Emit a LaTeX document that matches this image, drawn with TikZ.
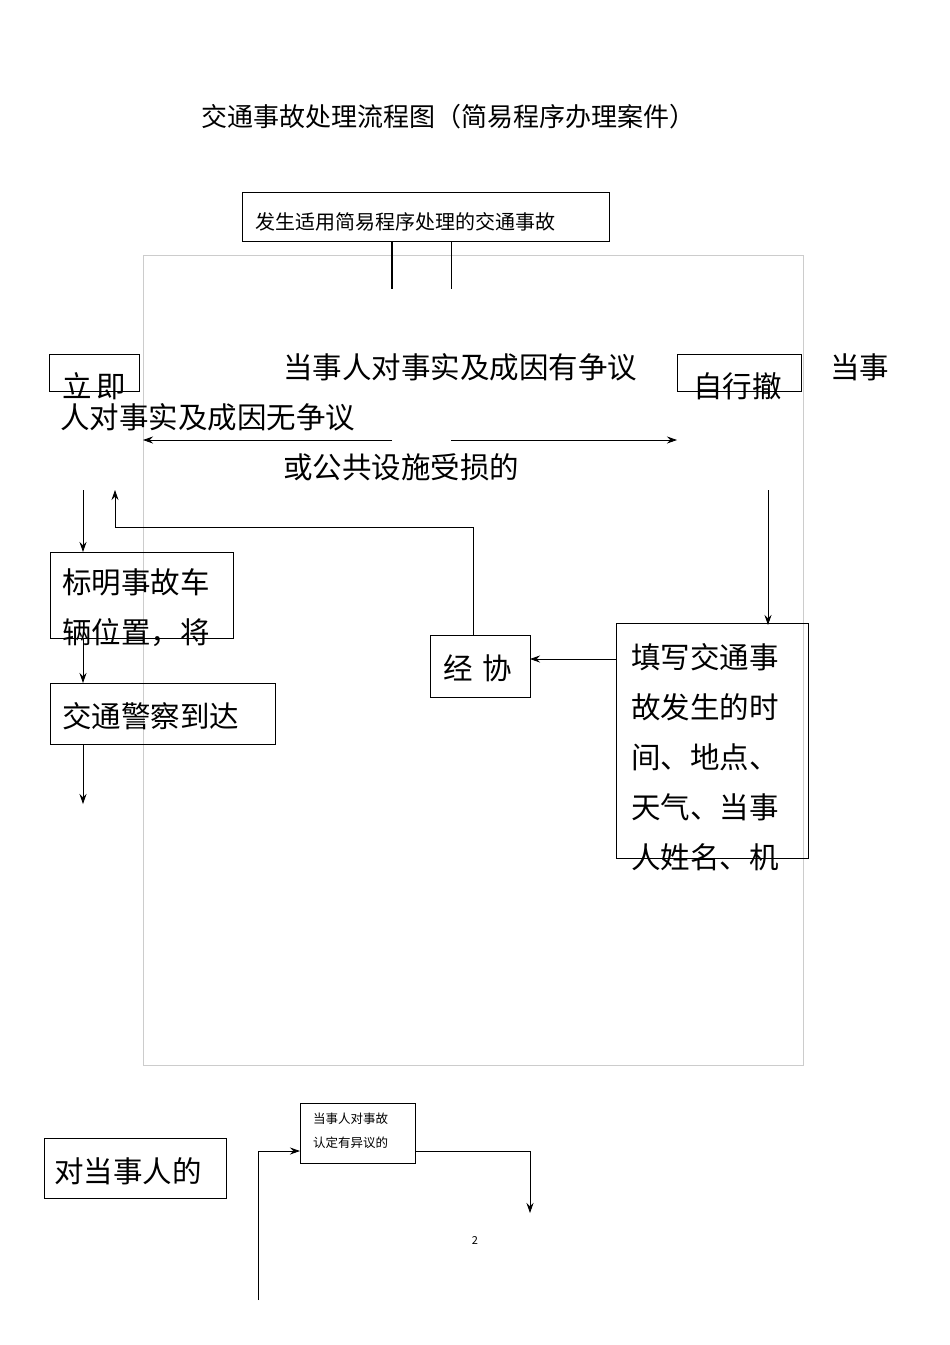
\documentclass[tikz,border=0pt]{standalone}
\usepackage{fontspec}
\setmainfont{Noto Sans CJK SC}
\usetikzlibrary{arrows.meta}
\begin{document}
\begin{tikzpicture}[x=1pt,y=-1pt,
  bx/.style={draw,line width=0.8pt},
  ln/.style={line width=0.8pt},
  ar/.style={line width=0.8pt,-{Stealth[length=10pt,width=7pt]}},
  big/.style={anchor=base west,inner sep=0pt,font=\fontsize{29.5}{32}\selectfont},
  lbl/.style={anchor=base west,inner sep=0pt}]
\useasboundingbox (0,0) rectangle (950,1345);
\node[anchor=base,font=\fontsize{26}{30}\selectfont] (title) at (448,126) {交通事故处理流程图（简易程序办理案件）};
\draw[draw=black!20] (143,255) rectangle (803,1065);
\draw[bx] (242,192) rectangle (609,241);
\node[lbl,font=\fontsize{20}{22}\selectfont] (tt) at (255,229) {发生适用简易程序处理的交通事故};
\draw[line width=1.6pt] (392,241) -- (392,289);
\draw[ln] (451,241) -- (451,289);
\draw[bx] (49,354) rectangle (139,391);
\node[big] (a1) at (62,397) {立\,即};
\node[big] (a2) at (283,378) {当事人对事实及成因有争议};
\draw[bx] (677,354) rectangle (801,391);
\node[big] (a3) at (693,397) {自行撤};
\node[big] (a4) at (830,378) {当事};
\node[big] (a5) at (60,428) {人对事实及成因无争议};
\node[big] (a6) at (283,478) {或公共设施受损的};
\coordinate (l1) at (392,440); \coordinate (l2) at (143,440);
\coordinate (r1) at (451,440); \coordinate (r2) at (677,440);
\draw[ar] (l1) -- (l2);
\draw[ar] (r1) -- (r2);
\draw[bx] (50,552) rectangle (233,638);
\node[big] (b1) at (62,593) {标明事故车};
\node[big] (b2) at (62,643) {辆位置，将};
\draw[bx] (50,683) rectangle (275,744);
\node[big] (c1) at (62,727) {交通警察到达};
\draw[ar] (83,490) -- (83,552);
\draw[ar] (83,638) -- (83,683);
\draw[ar] (83,744) -- (83,804);
\draw[ar] (473,635) -- (473,527) -- (115,527) -- (115,490);
\draw[bx] (430,635) rectangle (530,697);
\node[big] (d1) at (443,679) {经\,\,协};
\draw[bx] (616,623) rectangle (808,858);
\foreach \t [count=\i] in {填写交通事,故发生的时,间、地点、,天气、当事,人姓名、机}
  \node[big] at (631,618+50*\i) {\t};
\draw[ar] (768,490) -- (768,625);
\draw[ar] (616,659) -- (530,659);
\draw[bx] (44,1138) rectangle (226,1198);
\node[big] (e1) at (54,1182) {对当事人的};
\draw[bx] (300,1103) rectangle (415,1163);
\node[lbl,font=\fontsize{12.5}{14}\selectfont] at (313,1123) {当事人对事故};
\node[lbl,font=\fontsize{12.5}{14}\selectfont] at (313,1147) {认定有异议的};
\draw[ar] (258,1300) -- (258,1151) -- (300,1151);
\draw[ar] (415,1151) -- (530,1151) -- (530,1213);
\node[font=\fontsize{11}{13}\selectfont] at (475,1240) {2};
\end{tikzpicture}
\end{document}
